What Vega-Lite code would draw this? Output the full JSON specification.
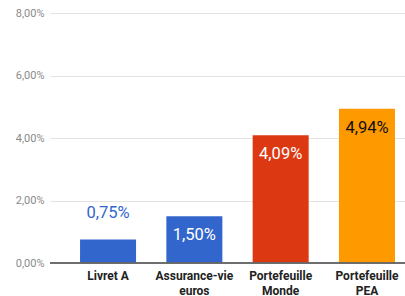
{
  "$schema": "https://vega.github.io/schema/vega-lite/v6.json",
  "width": 355,
  "height": 250,
  "autosize": {"type": "none"},
  "padding": {"left": 50, "top": 13, "right": 0, "bottom": 33},
  "background": "white",
  "config": {
    "locale": {"number": {"decimal": ",", "thousands": " ", "grouping": [3], "currency": ["", " €"]}},
    "view": {"stroke": null},
    "font": "Roboto"
  },
  "data": {
    "values": [
      {"placement": "Livret A", "rendement": 0.0075},
      {"placement": "Assurance-vie euros", "rendement": 0.015},
      {"placement": "Portefeuille Monde", "rendement": 0.0409},
      {"placement": "Portefeuille PEA", "rendement": 0.0494}
    ]
  },
  "encoding": {
    "x": {
      "field": "placement",
      "type": "nominal",
      "sort": null,
      "scale": {"paddingInner": 0.351, "paddingOuter": 0.232, "align": 0.75},
      "axis": {
        "title": null,
        "domain": false,
        "ticks": false,
        "labelAngle": 0,
        "labelFont": "Roboto",
        "labelFontWeight": "bold",
        "labelFontSize": 12,
        "labelColor": "#222222",
        "labelPadding": 7,
        "labelLineHeight": 15,
        "labelBaseline": "top",
        "labelExpr": "datum.label == 'Livret A' ? 'Livret A' : split(datum.label, ' ')"
      }
    },
    "y": {
      "field": "rendement",
      "type": "quantitative",
      "scale": {"domain": [0, 0.08]},
      "axis": {
        "title": null,
        "values": [0, 0.02, 0.04, 0.06, 0.08],
        "format": ".2%",
        "domain": false,
        "ticks": false,
        "grid": true,
        "gridColor": "#e3e3e3",
        "labelFont": "Roboto",
        "labelFontSize": 11,
        "labelColor": "#8a8a8a",
        "labelPadding": 6
      }
    }
  },
  "layer": [
    {
      "mark": {"type": "bar"},
      "encoding": {
        "color": {
          "field": "placement",
          "type": "nominal",
          "scale": {
            "domain": ["Livret A", "Assurance-vie euros", "Portefeuille Monde", "Portefeuille PEA"],
            "range": ["#3366cc", "#3366cc", "#dc3912", "#ff9900"]
          },
          "legend": null
        }
      }
    },
    {
      "mark": {"type": "rule", "color": "#666666", "strokeWidth": 1},
      "encoding": {"y": {"datum": 0}, "x": null}
    },
    {
      "transform": [{"filter": "datum.placement == 'Livret A'"}],
      "mark": {"type": "text", "baseline": "bottom", "dy": -19, "fontSize": 16.5, "font": "Roboto", "color": "#3366cc"},
      "encoding": {"text": {"field": "rendement", "type": "quantitative", "format": ".2%"}}
    },
    {
      "transform": [{"filter": "datum.placement != 'Livret A'"}],
      "mark": {"type": "text", "baseline": "middle", "dy": 19, "fontSize": 16.5, "font": "Roboto"},
      "encoding": {
        "text": {"field": "rendement", "type": "quantitative", "format": ".2%"},
        "color": {
          "field": "placement",
          "type": "nominal",
          "scale": {
            "domain": ["Livret A", "Assurance-vie euros", "Portefeuille Monde", "Portefeuille PEA"],
            "range": ["#3366cc", "#ffffff", "#ffffff", "#111111"]
          },
          "legend": null
        }
      }
    }
  ],
  "resolve": {"scale": {"color": "independent"}}
}
